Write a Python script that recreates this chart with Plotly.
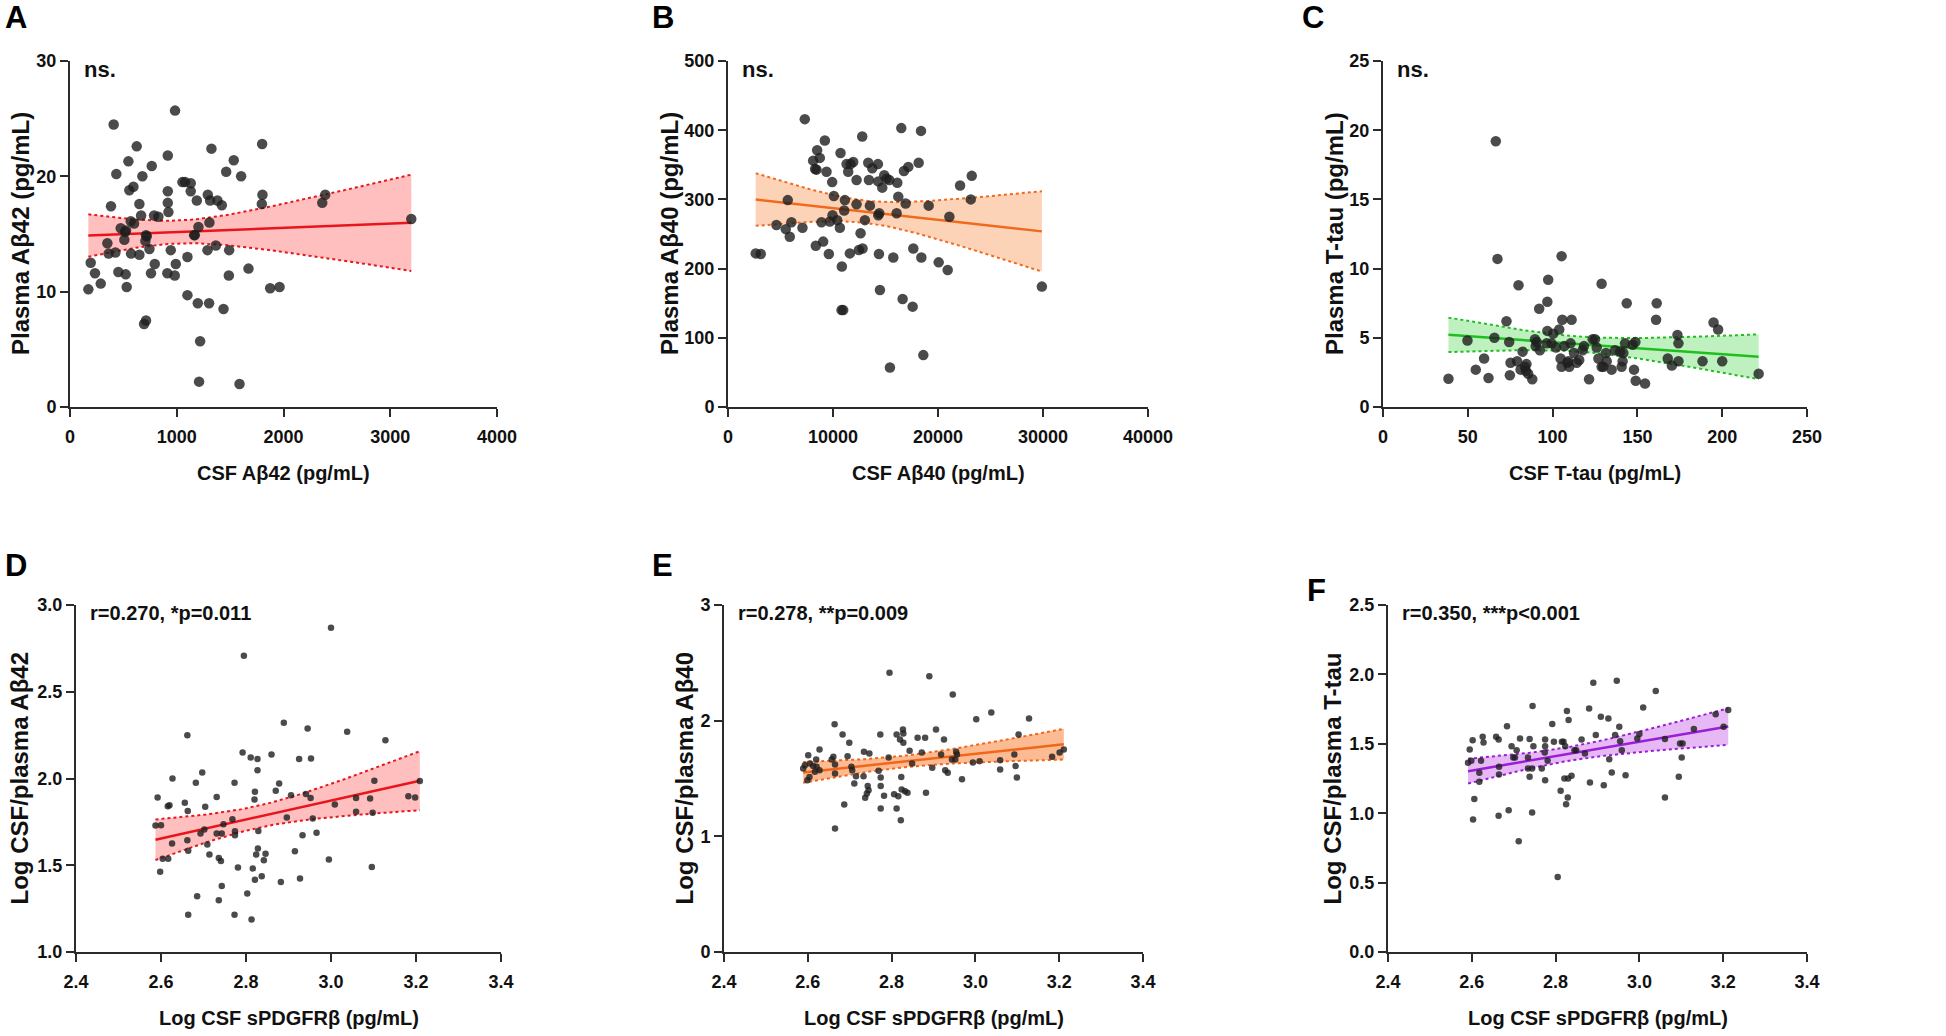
import numpy as np
import plotly.graph_objects as go

W, H = 1946, 1036

# ---------------- data ----------------
a_x = [172, 194, 234, 288, 350, 362, 384, 409, 425, 434, 453, 475, 509, 516, 525, 522, 531, 547, 556, 569,
       572, 594, 600, 625, 650, 650, 666, 678, 694, 712, 706, 712, 719, 744, 759, 766, 788, 794, 828, 916,
       916, 916, 922, 912, 944, 984, 981, 991, 1053, 1078, 1100, 1100, 1131, 1131, 1163, 1169, 1188, 1197, 1203, 1209,
       1219, 1288, 1291, 1303, 1306, 1313, 1325, 1366, 1381, 1422, 1438, 1463, 1491, 1488, 1534, 1588, 1603, 1672, 1800, 1803,
       1797, 1875, 1963, 2363, 2391, 3197]
a_y = [10.2, 12.5, 11.6, 10.7, 14.2, 13.3, 17.4, 24.5, 13.4, 20.2, 11.7, 15.5, 14.5, 15.2, 15.3, 11.5, 10.4, 21.3, 18.8, 16.1,
       13.3, 19.1, 15.9, 22.6, 17.6, 13.2, 16.6, 20.0, 7.2, 7.5, 14.4, 14.9, 14.8, 13.7, 11.6, 20.9, 16.6, 12.4, 16.5, 21.8,
       18.7, 17.7, 16.9, 11.6, 13.6, 25.7, 11.4, 12.4, 19.5, 19.5, 13.0, 9.7, 19.4, 18.7, 14.9, 14.9, 17.9, 9.0, 15.6, 2.2,
       5.7, 13.6, 18.4, 9.0, 16.0, 17.9, 22.4, 14.0, 17.9, 17.5, 8.5, 20.4, 13.6, 11.4, 21.4, 2.0, 20.0, 12.0, 22.8, 18.4,
       17.6, 10.3, 10.4, 17.7, 18.4, 16.3]

b_x = [2640, 3116, 4611, 5500, 5692, 5883, 6042, 7091, 7314, 8109, 8300, 8363, 8490, 8427, 8745, 8904, 9063, 9222, 9381, 9604,
       9700, 9922, 9954, 10081, 10399, 10653, 10717, 10844, 10812, 10971, 11130, 11067, 11290, 11448, 11607, 11670, 11925, 12243, 12243, 12466,
       12625, 12784, 12816, 13038, 13356, 13420, 13515, 13738, 14279, 14310, 14310, 14374, 14469, 14406, 14692, 14882, 15105, 15359, 15423, 15741,
       16123, 16218, 16059, 16504, 16631, 16758, 16918, 17172, 17585, 17649, 18158, 18381, 18412, 18603, 19112, 20066, 20924, 21084, 22102, 23119,
       23215, 29893]
b_y = [222, 221, 263, 257, 299, 246, 267, 259, 416, 356, 344, 233, 371, 343, 360, 267, 239, 385, 340, 221,
       268, 325, 277, 305, 270, 259, 367, 203, 140, 140, 299, 284, 351, 340, 222, 351, 354, 293, 328, 227,
       251, 391, 229, 270, 353, 328, 291, 345, 351, 326, 277, 221, 169, 280, 317, 335, 330, 328, 57, 216,
       324, 304, 280, 403, 156, 341, 294, 347, 145, 229, 353, 399, 216, 75, 291, 209, 198, 275, 320, 300,
       334, 174]

c_x = [38.6, 49.8, 54.7, 59.6, 62.2, 65.7, 66.5, 67.5, 72.8, 74.4, 74.8, 75.2, 79.1, 79.9, 81.1, 82.3, 83.7, 84.6, 84.3, 85.6,
       88.0, 89.6, 90.0, 90.6, 92.1, 92.5, 96.9, 97.4, 96.9, 96.5, 99.4, 100.4, 102.0, 103.9, 105.3, 105.7, 104.7, 105.3, 106.9, 108.7,
       109.3, 109.8, 110.6, 111.2, 112.6, 114.2, 115.7, 117.7, 118.5, 121.5, 123.6, 125.0, 126.0, 127.0, 128.9, 128.9, 129.9, 131.5, 131.9, 134.8,
       136.8, 139.8, 140.7, 141.3, 141.7, 142.7, 143.7, 147.2, 148.0, 148.8, 149.0, 154.5, 161.0, 161.4, 167.9, 170.3, 173.6, 174.2, 174.2, 188.4,
       194.9, 197.6, 200.0, 221.5]
c_y = [2.04, 4.8, 2.7, 3.5, 2.1, 5.0, 19.2, 10.7, 6.2, 4.7, 2.3, 3.2, 3.3, 8.8, 2.7, 4.0, 2.9, 3.1, 2.6, 2.4,
       2.0, 4.9, 4.4, 4.7, 7.1, 4.1, 7.6, 9.2, 5.5, 4.6, 4.6, 5.3, 4.3, 5.6, 10.9, 6.3, 3.5, 2.9, 4.4, 3.2,
       3.3, 2.9, 4.6, 6.3, 3.9, 3.2, 3.4, 4.1, 4.4, 2.0, 4.9, 4.9, 4.3, 3.5, 8.9, 2.9, 2.9, 3.9, 3.3, 2.7,
       4.1, 4.0, 2.9, 3.3, 3.9, 4.6, 7.5, 4.5, 2.7, 4.7, 1.9, 1.7, 6.3, 7.5, 3.5, 3.0, 5.2, 4.6, 3.3, 3.3,
       6.1, 5.6, 3.3, 2.4]

d_x = [2.587, 2.592, 2.600, 2.598, 2.604, 2.616, 2.620, 2.617, 2.627, 2.626, 2.656, 2.662, 2.663, 2.662, 2.664, 2.664, 2.682, 2.685, 2.693, 2.697,
       2.702, 2.704, 2.709, 2.714, 2.731, 2.731, 2.736, 2.736, 2.741, 2.743, 2.743, 2.747, 2.768, 2.773, 2.773, 2.774, 2.774, 2.781, 2.792, 2.795,
       2.803, 2.811, 2.813, 2.816, 2.820, 2.821, 2.821, 2.824, 2.827, 2.827, 2.829, 2.828, 2.842, 2.846, 2.837, 2.860, 2.870, 2.878, 2.882, 2.889,
       2.896, 2.906, 2.915, 2.925, 2.927, 2.933, 2.941, 2.945, 2.952, 2.953, 2.957, 2.966, 2.995, 3.000, 3.009, 3.038, 3.059, 3.059, 3.092, 3.096,
       3.098, 3.102, 3.128, 3.182, 3.198, 3.209]
d_y = [1.729, 1.890, 1.731, 1.462, 1.538, 1.840, 1.846, 1.538, 2.000, 1.625, 1.860, 2.250, 1.813, 1.644, 1.583, 1.215, 1.975, 1.321, 1.683, 2.035,
       1.706, 1.837, 1.619, 1.562, 1.894, 1.683, 1.542, 1.298, 1.525, 1.683, 1.381, 1.737, 1.765, 1.975, 1.215, 1.696, 1.673, 1.487, 2.150, 2.708,
       1.337, 2.121, 1.187, 1.481, 1.879, 1.923, 1.417, 1.562, 2.112, 2.048, 1.698, 1.596, 1.529, 1.567, 1.437, 2.138, 1.929, 1.971, 1.404, 2.321,
       1.775, 1.904, 1.581, 2.112, 1.423, 1.673, 1.910, 2.288, 1.888, 2.115, 1.769, 1.687, 1.533, 2.869, 1.850, 2.269, 1.888, 1.808, 1.885, 1.490,
       1.802, 1.987, 2.221, 1.898, 1.890, 1.985]

e_x = [2.589, 2.593, 2.599, 2.601, 2.604, 2.605, 2.613, 2.617, 2.620, 2.621, 2.628, 2.628, 2.657, 2.661, 2.664, 2.665, 2.665, 2.665, 2.683, 2.687,
       2.695, 2.699, 2.704, 2.706, 2.711, 2.715, 2.733, 2.734, 2.737, 2.741, 2.743, 2.745, 2.747, 2.769, 2.773, 2.774, 2.774, 2.774, 2.782, 2.793,
       2.795, 2.806, 2.812, 2.812, 2.816, 2.820, 2.823, 2.824, 2.827, 2.828, 2.828, 2.832, 2.838, 2.822, 2.843, 2.849, 2.862, 2.872, 2.880, 2.882,
       2.890, 2.897, 2.906, 2.918, 2.925, 2.928, 2.934, 2.946, 2.944, 2.952, 2.954, 2.956, 2.968, 2.994, 3.002, 3.010, 3.038, 3.059, 3.059, 3.093,
       3.096, 3.099, 3.103, 3.128, 3.183, 3.201, 3.211]
e_y = [1.586, 1.615, 1.485, 1.702, 1.514, 1.630, 1.607, 1.558, 1.664, 1.601, 1.572, 1.751, 1.664, 1.687, 1.970, 1.621, 1.543, 1.067, 1.881, 1.275,
       1.693, 1.808, 1.601, 1.572, 1.457, 1.520, 1.520, 1.731, 1.333, 1.370, 1.436, 1.399, 1.716, 1.566, 1.881, 1.508, 1.436, 1.240, 1.350, 1.682,
       2.414, 1.364, 1.881, 1.240, 1.347, 1.837, 1.514, 1.405, 1.924, 1.889, 1.808, 1.390, 1.376, 1.139, 1.739, 1.630, 1.852, 1.725, 1.852, 1.376,
       2.385, 1.592, 1.924, 1.707, 1.837, 1.572, 1.549, 2.227, 1.664, 1.664, 1.731, 1.707, 1.494, 1.638, 2.013, 1.650, 2.071, 1.658, 1.578, 1.707,
       1.607, 1.508, 1.881, 2.019, 1.687, 1.725, 1.751]

f_x = [2.591, 2.595, 2.599, 2.602, 2.603, 2.606, 2.618, 2.618, 2.622, 2.626, 2.628, 2.658, 2.664, 2.665, 2.665, 2.664, 2.684, 2.688, 2.695, 2.699,
       2.703, 2.707, 2.712, 2.715, 2.734, 2.738, 2.738, 2.734, 2.745, 2.744, 2.747, 2.744, 2.767, 2.774, 2.775, 2.775, 2.775, 2.781, 2.792, 2.796,
       2.812, 2.815, 2.819, 2.823, 2.821, 2.825, 2.827, 2.829, 2.831, 2.830, 2.838, 2.805, 2.845, 2.849, 2.862, 2.870, 2.880, 2.882, 2.890, 2.896,
       2.908, 2.915, 2.926, 2.928, 2.934, 2.942, 2.946, 2.952, 2.954, 2.958, 2.967, 2.995, 3.000, 3.009, 3.039, 3.061, 3.061, 3.094, 3.097, 3.103,
       3.101, 3.130, 3.182, 3.201, 3.212]
f_y = [1.363, 1.459, 1.377, 1.526, 0.954, 1.103, 1.291, 1.226, 1.377, 1.550, 1.510, 1.550, 1.531, 1.334, 1.279, 0.981, 1.627, 1.022, 1.483, 1.401,
       1.401, 1.454, 0.798, 1.538, 1.401, 1.534, 1.262, 1.322, 1.772, 1.322, 1.483, 1.005, 1.322, 1.438, 1.483, 1.531, 1.238, 1.377, 1.642, 1.514,
       1.161, 1.514, 1.514, 1.483, 1.250, 1.065, 1.736, 1.113, 1.671, 1.250, 1.269, 0.541, 1.454, 1.454, 1.531, 1.430, 1.755, 1.221, 1.940, 1.563,
       1.695, 1.202, 1.683, 1.389, 1.293, 1.563, 1.954, 1.623, 1.519, 1.454, 1.274, 1.538, 1.570, 1.762, 1.880, 1.534, 1.113, 1.262, 1.502, 1.502,
       1.401, 1.606, 1.712, 1.623, 1.743]

panel_letters = ["A", "B", "C", "D", "E", "F"]
x_titles = ["CSF Aβ42 (pg/mL)", "CSF Aβ40 (pg/mL)", "CSF T-tau (pg/mL)",
            "Log CSF sPDGFRβ (pg/mL)", "Log CSF sPDGFRβ (pg/mL)", "Log CSF sPDGFRβ (pg/mL)"]
y_titles = ["Plasma Aβ42 (pg/mL)", "Plasma Aβ40 (pg/mL)", "Plasma T-tau (pg/mL)",
            "Log CSF/plasma Aβ42", "Log CSF/plasma Aβ40", "Log CSF/plasma T-tau"]
stat_texts = ["ns.", "ns.", "ns.", "r=0.270, *p=0.011", "r=0.278, **p=0.009", "r=0.350, ***p<0.001"]
x_ranges = [(0, 4000), (0, 40000), (0, 250), (2.4, 3.4), (2.4, 3.4), (2.4, 3.4)]
y_ranges = [(0, 30), (0, 500), (0, 25), (1.0, 3.0), (0, 3), (0, 2.5)]
x_dticks = [1000, 10000, 50, 0.2, 0.2, 0.2]
y_dticks = [10, 100, 5, 0.5, 1, 0.5]

# ---------------- styling / layout ----------------
line_colors = ["#e8161c", "#f06a1e", "#1fbf1f", "#e8161c", "#f2661a", "#9a1ed8"]
fill_colors = ["rgba(255,170,170,0.75)", "rgba(253,200,165,0.8)", "rgba(170,235,170,0.75)",
               "rgba(255,170,170,0.75)", "rgba(252,170,120,0.8)", "rgba(222,160,240,0.75)"]
marker_sizes = [10.5, 10.5, 10.5, 6.5, 6.5, 6.5]
# pixel boxes (left, right, top, bottom)
boxes = [(70, 497, 61, 407), (728, 1148, 61, 407), (1383, 1807, 61, 407),
         (76, 501, 605, 952), (724, 1143, 605, 952), (1388, 1807, 605, 952)]
ytitle_offsets = [50, 59, 49, 57, 40, 56]
letter_pos = [(3, 18), (650, 18), (1300, 18), (3, 565), (650, 565), (1305, 590)]
xtick_fmt = ["d", "d", "d", ".1f", ".1f", ".1f"]
ytick_fmt = ["d", "d", "d", ".1f", "d", ".1f"]

FONT = "Liberation Sans, Arial, sans-serif"
AX = "#2b2b2b"

xs = [a_x, b_x, c_x, d_x, e_x, f_x]
ys = [a_y, b_y, c_y, d_y, e_y, f_y]


def px(x):
    return x / W


def py(y):
    return 1 - y / H


fig = go.Figure()
annotations = []
layout = {}

for i in range(6):
    n = i + 1
    xa = "xaxis" if n == 1 else f"xaxis{n}"
    ya = "yaxis" if n == 1 else f"yaxis{n}"
    xr = "x" if n == 1 else f"x{n}"
    yr = "y" if n == 1 else f"y{n}"
    L, R, T, B = boxes[i]

    x = np.array(xs[i], dtype=float)
    y = np.array(ys[i], dtype=float)
    # linear regression with 95% confidence band
    slope, intercept = np.polyfit(x, y, 1)
    nn = len(x)
    resid = y - (slope * x + intercept)
    s = np.sqrt(np.sum(resid ** 2) / (nn - 2))
    xm = x.mean()
    sxx = np.sum((x - xm) ** 2)
    xf = np.linspace(x.min(), x.max(), 60)
    yf = slope * xf + intercept
    half = 1.99 * s * np.sqrt(1 / nn + (xf - xm) ** 2 / sxx)

    fig.add_trace(go.Scatter(x=xf, y=yf + half, mode="lines", xaxis=xr, yaxis=yr,
                             line=dict(color=line_colors[i], width=2, dash="dot"),
                             showlegend=False, hoverinfo="skip"))
    fig.add_trace(go.Scatter(x=xf, y=yf - half, mode="lines", xaxis=xr, yaxis=yr,
                             line=dict(color=line_colors[i], width=2, dash="dot"),
                             fill="tonexty", fillcolor=fill_colors[i],
                             showlegend=False, hoverinfo="skip"))
    fig.add_trace(go.Scatter(x=xf, y=yf, mode="lines", xaxis=xr, yaxis=yr,
                             line=dict(color=line_colors[i], width=2.5),
                             showlegend=False, hoverinfo="skip"))
    fig.add_trace(go.Scatter(x=x, y=y, mode="markers", xaxis=xr, yaxis=yr,
                             marker=dict(color="rgba(30,30,30,0.8)", size=marker_sizes[i], line=dict(width=0)),
                             showlegend=False))

    common = dict(showline=True, linecolor=AX, linewidth=2, ticks="outside", tickcolor=AX,
                  tickwidth=2, ticklen=8, showgrid=False, zeroline=False, automargin=False,
                  tickfont=dict(family=FONT, size=18, color="#111", weight="bold"))
    layout[xa] = dict(domain=[px(L), px(R)], range=list(x_ranges[i]), anchor=yr,
                      dtick=x_dticks[i], tick0=x_ranges[i][0], tickformat=xtick_fmt[i],
                      ticklabelstandoff=4, **common)
    layout[ya] = dict(domain=[py(B), py(T)], range=list(y_ranges[i]), anchor=xr,
                      dtick=y_dticks[i], tick0=y_ranges[i][0], tickformat=ytick_fmt[i],
                      ticklabelstandoff=0, **common)

    # axis titles
    annotations.append(dict(text=f"<b>{x_titles[i]}</b>", x=px((L + R) / 2), y=py(B + 66),
                            xref="paper", yref="paper", xanchor="center", yanchor="middle",
                            showarrow=False, font=dict(family=FONT, size=20, color="#111")))
    annotations.append(dict(text=f"<b>{y_titles[i]}</b>", x=px(L - ytitle_offsets[i]), y=py((T + B) / 2),
                            xref="paper", yref="paper", xanchor="center", yanchor="middle",
                            textangle=-90, showarrow=False, font=dict(family=FONT, size=24, color="#111")))
    # stats text
    annotations.append(dict(text=f"<b>{stat_texts[i]}</b>", x=px(L + 12), y=py(T + 8),
                            xref="paper", yref="paper", xanchor="left", yanchor="middle",
                            showarrow=False,
                            font=dict(family=FONT, size=22 if i < 3 else 20, color="#111")))
    # panel letter
    lx, ly = letter_pos[i]
    annotations.append(dict(text=f"<b>{panel_letters[i]}</b>", x=px(lx), y=py(ly),
                            xref="paper", yref="paper", xanchor="left", yanchor="middle",
                            showarrow=False, font=dict(family=FONT, size=31, color="#000")))

fig.update_layout(width=W, height=H, margin=dict(l=0, r=0, t=0, b=0, autoexpand=False),
                  paper_bgcolor="white", plot_bgcolor="white",
                  annotations=annotations, showlegend=False, **layout)

fig.write_html("out.html", config={"displayModeBar": False},
               post_script="document.body.style.margin='0px';document.body.style.overflow='hidden';")
